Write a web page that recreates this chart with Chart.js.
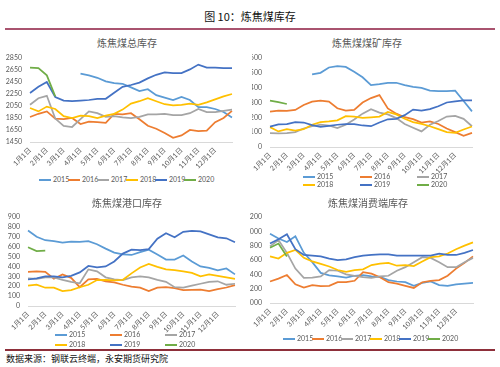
<!DOCTYPE html>
<html lang="zh">
<head>
<meta charset="UTF-8">
<title>炼焦煤库存</title>
<script src="https://cdn.jsdelivr.net/npm/chart.js"></script>
<style>
  body { margin: 0; background: #fff; }
  #page { position: relative; width: 500px; height: 367px; overflow: hidden; font-family: Lato, "Noto Sans CJK SC", sans-serif; }
  canvas { position: absolute; }
  .abs { position: absolute; white-space: nowrap; }
  .ptitle { font-size: 10px; color: #595959; transform: translate(-50%, -50%); }
  .leg { font-size: 7px; color: #595959; line-height: 8px; }
  .leg i { display: inline-block; width: 12px; height: 2px; vertical-align: middle; margin-right: 2px; }
</style>
</head>
<body>
<div id="page">
  <div class="abs" style="left:250px;top:16px;transform:translate(-50%,-50%);font-size:11px;color:#111;font-family:'Noto Sans CJK SC';">图 10：炼焦煤库存</div>
  <div class="abs" style="left:5px;top:28px;width:490px;height:2px;background:#a9536f;"></div>
  <div class="abs" style="left:5px;top:349px;width:490px;height:2px;background:#8e2f3a;"></div>
  <div class="abs" style="left:6px;top:352px;font-size:9px;color:#111;font-family:'Noto Sans CJK SC';">数据来源：钢联云终端，永安期货研究院</div>
</div>
<script>
// x: half-month steps, 1月1日 .. 年末
const monthLabels = ['1月1日','2月1日','3月1日','4月1日','5月1日','6月1日','7月1日','8月1日','9月1日','10月1日','11月1日','12月1日'];
const years = ['2015','2016','2017','2018','2019','2020'];
const colors = ['#5B9BD5','#ED7D31','#A5A5A5','#FFC000','#4472C4','#70AD47'];
const _ = null;

// 炼焦煤总库存
const total15 = [_,_,_,_,_,_,2590,2560,2520,2460,2430,2420,2360,2300,2330,2230,2190,2150,2200,2150,2030,2030,2000,1950,1860];
const total16 = [1867,1920,1960,1840,1830,1850,1750,1790,1780,1770,1920,1910,1930,1830,1720,1670,1600,1520,1560,1650,1630,1640,1780,1850,1970];
const total17 = [2070,2180,2220,1840,1720,1700,1830,1960,1930,1870,1880,1860,1850,1870,1910,1910,1920,1900,1900,1930,2000,1950,1950,1970,1990];
const total18 = [2017,1960,2040,2000,1880,1850,1890,1880,1850,1890,1920,1990,2090,2130,2180,2130,2080,2060,2070,2090,2070,2110,2160,2210,2250];
const total19 = [2267,2370,2450,2200,2140,2130,2140,2150,2170,2170,2270,2370,2400,2440,2510,2570,2610,2600,2600,2660,2740,2690,2690,2680,2680];
const total20 = [2690,2680,2560,2210];

// 炼焦煤煤矿库存
const mine15 = [_,_,_,_,_,490,500,536,545,540,507,470,417,424,433,433,417,406,398,380,377,377,380,310,240];
const mine16 = [239,245,243,250,283,306,312,306,261,246,250,300,330,350,260,225,201,188,165,172,155,125,100,75,95];
const mine17 = [94,92,94,100,125,140,150,145,127,150,185,225,255,232,220,195,155,130,105,150,175,205,210,190,140];
const mine18 = [134,105,120,110,120,150,168,172,180,208,205,196,200,205,236,220,190,168,156,140,120,100,95,118,138];
const mine19 = [138,152,155,168,165,148,135,142,150,155,154,145,140,165,187,190,215,252,245,255,275,300,308,315,315];
const mine20 = [313,302,290];

// 炼焦煤港口库存
const port15 = [764,700,665,655,640,650,648,655,625,580,540,522,516,545,570,520,470,470,510,450,400,385,360,380,320];
const port16 = [346,350,345,275,320,285,190,270,275,250,238,215,195,185,150,185,190,180,160,162,165,150,170,187,211];
const port17 = [279,275,290,290,265,245,230,370,350,290,270,262,290,300,290,265,245,190,185,205,225,245,250,215,225];
const port18 = [205,215,185,185,150,160,190,215,262,265,260,265,330,390,425,395,370,362,350,335,300,320,305,290,275];
const port19 = [268,279,300,300,290,305,340,405,390,400,450,530,570,565,575,680,735,695,750,760,755,725,695,685,645];
const port20 = [594,555,560];

// 炼焦煤消费端库存
const plant15 = [1967,1900,1850,1930,1700,1570,1420,1385,1370,1355,1380,1390,1370,1365,1320,1300,1290,1240,1280,1300,1250,1240,1260,1270,1280];
const plant16 = [1300,1340,1390,1260,1215,1250,1235,1240,1290,1290,1310,1430,1410,1360,1290,1270,1240,1210,1290,1310,1320,1380,1480,1560,1650];
const plant17 = [1790,1880,1700,1480,1350,1355,1370,1460,1450,1400,1380,1360,1350,1370,1380,1450,1500,1570,1640,1630,1570,1500,1500,1570,1630];
const plant18 = [1650,1620,1700,1740,1630,1580,1545,1510,1460,1435,1460,1470,1530,1550,1560,1520,1530,1515,1580,1640,1650,1690,1750,1800,1845];
const plant19 = [1830,1890,1960,1750,1670,1660,1650,1620,1600,1610,1640,1660,1670,1680,1680,1660,1660,1660,1660,1660,1690,1670,1670,1700,1740];
const plant20 = [1770,1830,1650];

const xLabels = [];
for (let i = 0; i < 25; i++) xLabels.push(i % 2 === 0 && i < 24 ? monthLabels[i / 2] : '');

const page = document.getElementById('page');
const tickFont = { family: 'Lato, "Noto Sans CJK SC"', size: 7 };

function panel(p) {
  const cv = document.createElement('canvas');
  cv.width = p.cw; cv.height = p.ch;
  cv.style.left = p.cx + 'px'; cv.style.top = p.cy + 'px';
  page.appendChild(cv);

  new Chart(cv, {
    type: 'line',
    data: {
      labels: xLabels,
      datasets: p.series.map((d, i) => ({
        label: years[i], data: d, borderColor: colors[i], borderWidth: 1.75,
        pointRadius: 0, tension: 0, fill: false, order: 5 - i
      }))
    },
    options: {
      responsive: false, animation: false,
      layout: { padding: { left: p.L - p.cx - p.yw, right: p.cx + p.cw - p.R, top: p.T - p.cy, bottom: 0 } },
      plugins: { legend: { display: false }, tooltip: { enabled: false } },
      scales: {
        x: {
          grid: { display: false, drawTicks: false },
          border: { display: true, color: '#d9d9d9' },
          ticks: { autoSkip: false, minRotation: 45, maxRotation: 45, padding: 4, color: '#595959', font: tickFont },
          afterFit: s => { s.height = p.ch - (p.B - p.cy); }
        },
        y: {
          min: p.min, max: p.max,
          grid: { display: false },
          border: { display: false },
          ticks: { stepSize: p.step, autoSkip: false, padding: 0, color: '#595959', font: tickFont, callback: v => String(v) },
          afterFit: s => { s.width = p.yw; }
        }
      }
    }
  });

  const t = document.createElement('div');
  t.className = 'abs ptitle';
  t.style.left = p.tx + 'px'; t.style.top = p.ty + 'px';
  t.textContent = p.title;
  page.appendChild(t);

  years.forEach((y, i) => {
    const d = document.createElement('div');
    d.className = 'abs leg';
    d.style.left = (p.lx + (i % p.cols) * p.colW) + 'px';
    d.style.top = (p.ly - 4 + Math.floor(i / p.cols) * p.rowH) + 'px';
    d.innerHTML = '<i style="background:' + colors[i] + '"></i>' + y;
    page.appendChild(d);
  });
}

panel({ title: '炼焦煤总库存', tx: 127, ty: 42, cx: 0, cy: 50, cw: 250, ch: 124, L: 30, R: 232, T: 58, B: 142, yw: 26,
  min: 1450, max: 2850, step: 200, series: [total15, total16, total17, total18, total19, total20],
  lx: 39, ly: 179, cols: 6, colW: 29, rowH: 0 });
panel({ title: '炼焦煤煤矿库存', tx: 367, ty: 42, cx: 250, cy: 50, cw: 250, ch: 129, L: 270, R: 472, T: 58, B: 147, yw: 18,
  min: 0, max: 600, step: 100, series: [mine15, mine16, mine17, mine18, mine19, mine20],
  lx: 303, ly: 176, cols: 3, colW: 57, rowH: 8 });
panel({ title: '炼焦煤港口库存', tx: 127, ty: 202, cx: 0, cy: 209, cw: 250, ch: 129, L: 28, R: 235, T: 217, B: 306, yw: 20,
  min: 0, max: 900, step: 100, series: [port15, port16, port17, port18, port19, port20],
  lx: 55, ly: 334, cols: 3, colW: 55, rowH: 10 });
panel({ title: '炼焦煤消费端库存', tx: 368, ty: 202, cx: 250, cy: 209, cw: 250, ch: 126, L: 270, R: 473, T: 217, B: 303, yw: 20,
  min: 1000, max: 2200, step: 200, series: [plant15, plant16, plant17, plant18, plant19, plant20],
  lx: 283, ly: 338, cols: 6, colW: 29, rowH: 0 });
</script>
</body>
</html>
